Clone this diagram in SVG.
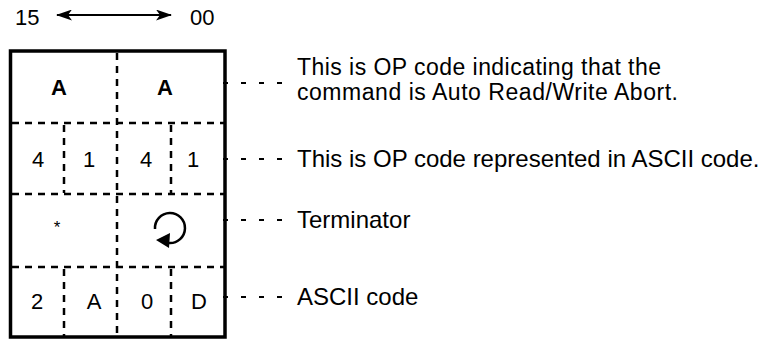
<svg xmlns="http://www.w3.org/2000/svg" width="765" height="341" viewBox="0 0 765 341">
<style>
text{font-family:"Liberation Sans",Arial,sans-serif;fill:#000}
.lbl{font-size:22px}
.cell{font-size:22px;text-anchor:middle}
.b{font-weight:bold}
.note{font-size:24px}
.div{stroke:#000;stroke-width:2.5;stroke-dasharray:7 6;fill:none}
.lead{stroke:#000;stroke-width:2;stroke-dasharray:5 13;fill:none}
</style>
<defs>
<marker id="ah" viewBox="0 0 16 11" refX="15" refY="5.5" markerWidth="16" markerHeight="11" markerUnits="userSpaceOnUse" orient="auto-start-reverse">
<path d="M0,0 L16,5.5 L0,11 L4,5.5 z" fill="#000"/>
</marker>
</defs>
<g id="bit-scale">
<text class="lbl" x="15" y="25">15</text>
<line x1="57" y1="15" x2="171" y2="15" stroke="#000" stroke-width="2" marker-start="url(#ah)" marker-end="url(#ah)"/>
<text class="lbl" x="190" y="25">00</text>
</g>
<g id="frame">
<rect x="10.5" y="51" width="214.5" height="286" fill="none" stroke="#000" stroke-width="3.5"/>
<line class="div" x1="12" y1="123" x2="224" y2="123"/>
<line class="div" x1="12" y1="194" x2="224" y2="194"/>
<line class="div" x1="12" y1="267" x2="224" y2="267"/>
<line class="div" x1="117" y1="53" x2="117" y2="336"/>
<line class="div" x1="64" y1="125" x2="64" y2="193"/>
<line class="div" x1="171" y1="125" x2="171" y2="193"/>
<line class="div" x1="64" y1="269" x2="64" y2="336"/>
<line class="div" x1="171" y1="269" x2="171" y2="336"/>
</g>
<g id="row-opcode">
<text class="cell b" x="59" y="95">A</text>
<text class="cell b" x="165" y="95">A</text>
</g>
<g id="row-ascii">
<text class="cell" x="38" y="167">4</text>
<text class="cell" x="89" y="167">1</text>
<text class="cell" x="146" y="167">4</text>
<text class="cell" x="193" y="167">1</text>
</g>
<g id="row-terminator">
<text class="cell" x="57" y="233" style="font-size:17px">*</text>
<path d="M155,229 A15,15 0 1 1 169,243" fill="none" stroke="#000" stroke-width="2.5"/>
<path d="M156,240 L170,233 L169,248 z" fill="#000"/>
</g>
<g id="row-code">
<text class="cell" x="37" y="309">2</text>
<text class="cell" x="94" y="309">A</text>
<text class="cell" x="147" y="309">0</text>
<text class="cell" x="199" y="309">D</text>
</g>
<g id="connectors">
<line class="lead" x1="223" y1="83" x2="284" y2="83"/>
<line class="lead" x1="223" y1="159" x2="284" y2="159"/>
<line class="lead" x1="223" y1="220" x2="284" y2="220"/>
<line class="lead" x1="223" y1="297" x2="284" y2="297"/>
</g>
<g id="note-1">
<text class="note" x="297" y="75" style="font-size:23px" textLength="364" lengthAdjust="spacing">This is OP code indicating that the</text>
<text class="note" x="297" y="100" style="font-size:23px" textLength="381" lengthAdjust="spacing">command is Auto Read/Write Abort.</text>
</g>
<g id="note-2">
<text class="note" x="297" y="167">This is OP code represented in ASCII code.</text>
</g>
<g id="note-3">
<text class="note" x="297" y="228">Terminator</text>
</g>
<g id="note-4">
<text class="note" x="297" y="305">ASCII code</text>
</g>
</svg>
